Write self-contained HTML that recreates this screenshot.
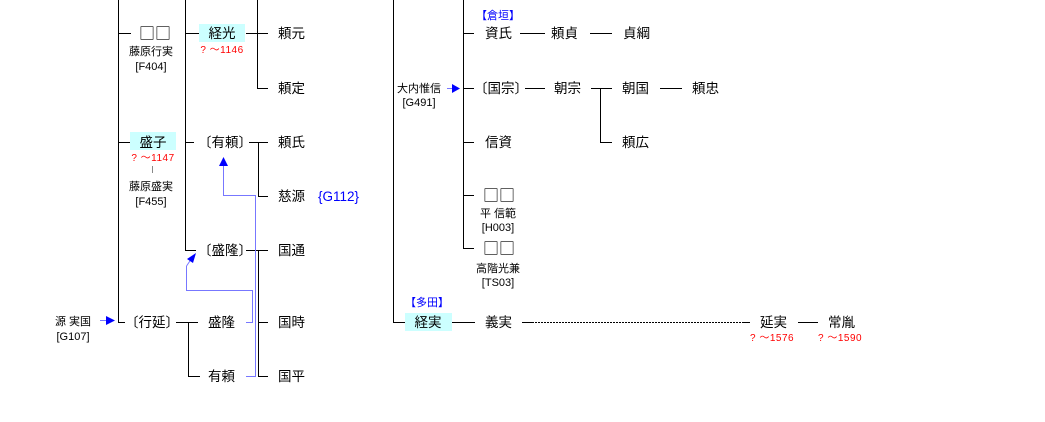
<!DOCTYPE html>
<html><head><meta charset="utf-8"><style>
html,body{margin:0;padding:0;background:#fff;width:1045px;height:422px;overflow:hidden}
svg{display:block}
text{font-family:"Liberation Sans","Noto Sans CJK JP",sans-serif;fill:#000}
.n{font-size:13.5px}
.s{font-size:11px}
.r{font-size:10px;fill:#f00;letter-spacing:0.5px}
.b{fill:#0000ff}
</style></head><body>
<svg width="1045" height="422" viewBox="0 0 1045 422" xmlns="http://www.w3.org/2000/svg">
<g stroke="#000" stroke-width="1" fill="none" shape-rendering="crispEdges">
<path d="M118.5 0V322.5H125"/>
<path d="M118 33.5H131M118 142.5H130"/>
<path d="M185.5 0V250.5H196"/>
<path d="M185 33.5H199M185 142.5H194"/>
<path d="M246 33.5H268M257.5 0V88.5H268"/>
<path d="M249 142.5H268M258.5 142.5V196.5H268"/>
<path d="M246 250.5H268M258.5 250.5V376.5H268M258 322.5H268"/>
<path d="M176 322.5H198M188.5 322.5V376.5H200"/>
<path d="M393.5 0V322.5H405"/>
<path d="M463.5 0V248.5H474M463 33.5H474M463 88.5H474M463 142.5H474M463 195.5H474"/>
<path d="M520 33.5H545M590 33.5H612"/>
<path d="M525 88.5H545M591 88.5H612M600.5 88.5V142.5H612M660 88.5H682"/>
<path d="M452 322.5H475M798 322.5H818"/>
<path d="M522 322.5H532M742 322.5H750"/>
<path d="M532 322.5H742" stroke-dasharray="2,1"/>
<path d="M152.5 166V173" stroke="#888"/>
</g>
<g stroke="#7777ff" stroke-width="1" fill="none" shape-rendering="crispEdges">
<path d="M246 376.5H255.5V195.5H223.5V166"/>
<path d="M246 322.5H252.5V290.5H186.5V266"/>
</g>
<g stroke="#7777ff" fill="none"><path d="M186.5 266L192 258"/></g>
<g fill="#0000ff">
<polygon points="223.5,157 219,166 228,166"/>
<polygon points="196,253 187,259 193,263"/>
<path d="M100 320.5H106" stroke="#7777ff"/>
<polygon points="106,316 115,320.5 106,325"/>
<path d="M447 88.5H452" stroke="#7777ff"/>
<polygon points="452,84 460,88.5 452,93"/>
</g>
<rect x="199" y="24" width="46" height="18" fill="#ccffff"/>
<rect x="130" y="132" width="46" height="18" fill="#ccffff"/>
<rect x="405" y="313" width="47" height="18" fill="#ccffff"/>
<text x="155" y="39" text-anchor="middle" style="font-family:'Noto Sans CJK JP',sans-serif;font-size:16px">□□</text>
<text class="s" x="151" y="55" text-anchor="middle">藤原行実</text>
<text class="s" x="151" y="70" text-anchor="middle">[F404]</text>
<text class="n" x="222" y="38" text-anchor="middle">経光</text>
<text class="r" x="222" y="53" text-anchor="middle">?  ～1146</text>
<text class="n" x="278" y="38">頼元</text>
<text class="n" x="278" y="93">頼定</text>
<text class="n" x="153" y="147" text-anchor="middle">盛子</text>
<text class="r" x="153" y="161" text-anchor="middle">?  ～1147</text>
<text class="s" x="151" y="190" text-anchor="middle">藤原盛実</text>
<text class="s" x="151" y="205" text-anchor="middle">[F455]</text>
<text class="n" x="198" y="147">〔有頼〕</text>
<text class="n" x="278" y="147">頼氏</text>
<text class="n" x="278" y="201">慈源</text>
<text class="n b" x="318" y="201">{G112}</text>
<text class="n" x="198" y="255">〔盛隆〕</text>
<text class="n" x="278" y="255">国通</text>
<text class="n" x="125" y="327">〔行延〕</text>
<text class="n" x="208" y="327">盛隆</text>
<text class="n" x="278" y="327">国時</text>
<text class="n" x="208" y="381">有頼</text>
<text class="n" x="278" y="381">国平</text>
<text class="s" x="73" y="325" text-anchor="middle">源  実国</text>
<text class="s" x="73" y="340" text-anchor="middle">[G107]</text>
<text class="s b" x="476" y="19">【倉垣】</text>
<text class="n" x="485" y="38">資氏</text>
<text class="n" x="551" y="38">頼貞</text>
<text class="n" x="623" y="38">貞綱</text>
<text class="s" x="419" y="92" text-anchor="middle">大内惟信</text>
<text class="s" x="419" y="106" text-anchor="middle">[G491]</text>
<text class="n" x="474" y="93">〔国宗〕</text>
<text class="n" x="554" y="93">朝宗</text>
<text class="n" x="622" y="93">朝国</text>
<text class="n" x="692" y="93">頼忠</text>
<text class="n" x="622" y="147">頼広</text>
<text class="n" x="485" y="147">信資</text>
<text x="499" y="201" text-anchor="middle" style="font-family:'Noto Sans CJK JP',sans-serif;font-size:16px">□□</text>
<text class="s" x="498" y="217" text-anchor="middle">平  信範</text>
<text class="s" x="498" y="231" text-anchor="middle">[H003]</text>
<text x="499" y="254" text-anchor="middle" style="font-family:'Noto Sans CJK JP',sans-serif;font-size:16px">□□</text>
<text class="s" x="498" y="272" text-anchor="middle">高階光兼</text>
<text class="s" x="498" y="286" text-anchor="middle">[TS03]</text>
<text class="s b" x="405" y="306">【多田】</text>
<text class="n" x="428" y="327" text-anchor="middle">経実</text>
<text class="n" x="485" y="327">義実</text>
<text class="n" x="760" y="327">延実</text>
<text class="n" x="828" y="327">常胤</text>
<text class="r" x="750" y="341">?  ～1576</text>
<text class="r" x="818" y="341">?  ～1590</text>
</svg>
</body></html>
